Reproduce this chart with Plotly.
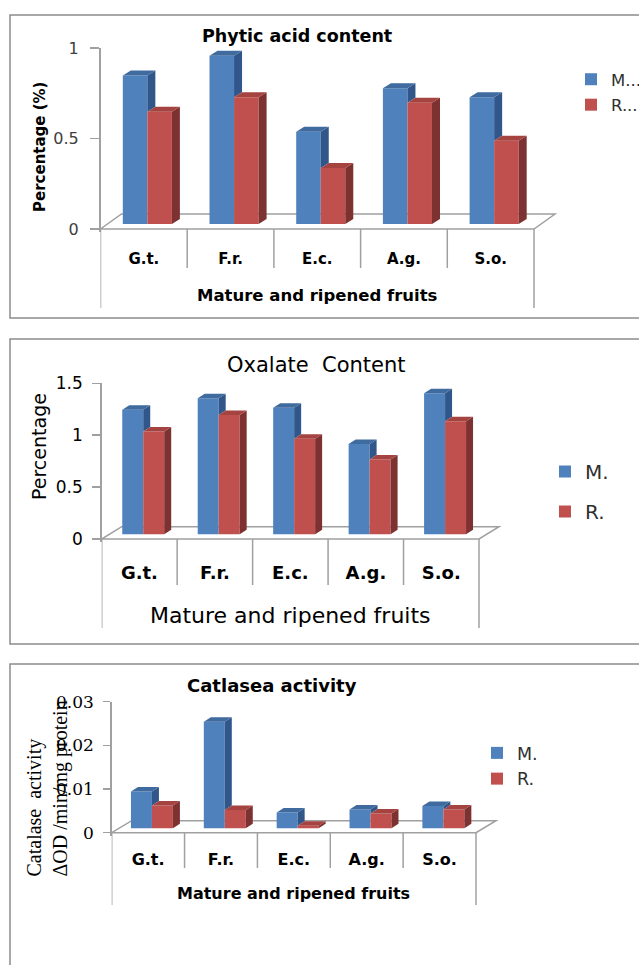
import plotly.graph_objects as go

# ---------------- data ----------------
categories = ["G.t.", "F.r.", "E.c.", "A.g.", "S.o."]
series_names_1 = ["M...", "R..."]
series_names_23 = ["M.", "R."]

phytic_mature = [0.82, 0.93, 0.51, 0.75, 0.70]
phytic_ripened = [0.62, 0.70, 0.31, 0.67, 0.46]

oxalate_mature = [1.20, 1.31, 1.22, 0.87, 1.36]
oxalate_ripened = [0.99, 1.15, 0.92, 0.72, 1.09]

catalase_mature = [0.0084, 0.0244, 0.0036, 0.0043, 0.0051]
catalase_ripened = [0.0052, 0.0042, 0.0006, 0.0034, 0.0043]

ticks_phytic = [0, 0.5, 1]
ticks_oxalate = [0, 0.5, 1, 1.5]
ticks_catalase = [0, 0.01, 0.02, 0.03]
ticktext_phytic = ["0", "0.5", "1"]
ticktext_oxalate = ["0", "0.5", "1", "1.5"]
ticktext_catalase = ["0", "0.01", "0.02", "0.03"]

# ---------------- styling ----------------
W, H = 639, 965
SANS = "DejaVu Sans"
SERIF = "DejaVu Serif"
BLUE, BLUE_TOP, BLUE_SIDE = "#4F81BD", "#3F6B9F", "#30568A"
RED, RED_TOP, RED_SIDE = "#C0504D", "#A54340", "#7D3130"
GRID = "#A0A0A0"
BORDER = "#8C8C8C"


def fx(x):
    return x / W


def fy(y):
    return 1 - y / H


panels = [
    dict(mature=phytic_mature, ripened=phytic_ripened, names=series_names_1,
         tickvals=ticks_phytic, ticktext=ticktext_phytic, ymax=1,
         ax=100.5, xr=534, y0=229, ytop=48, fdx=21, fdy=15, bw=0.283,
         sdx=3.5, sdy=5, ddx=8, ddy=5,
         tickfont=dict(family=SANS, size=16, color="#404040"), ticklen=9, tstand=8,
         catfont=dict(family=SANS, size=15, color="black"), cat_bold=True, cat_y=256.5,
         inner_end=268, outer_end=308,
         title="<b>Phytic acid content</b>", title_xy=(297, 36),
         title_font=dict(family=SANS, size=17.5, color="black"),
         xtitle="<b>Mature and ripened fruits</b>", xtitle_y=295,
         xtitle_font=dict(family=SANS, size=16.5, color="black"),
         ytitle="<b>Percentage (%)</b>", ytitle_xy=(40, 147),
         ytitle_font=dict(family=SANS, size=15, color="black"), ytitle_align="center",
         box=(10, 15, 700, 318),
         legend=dict(x=571, y=62, size=16.5, gap=1)),
    dict(mature=oxalate_mature, ripened=oxalate_ripened, names=series_names_23,
         tickvals=ticks_oxalate, ticktext=ticktext_oxalate, ymax=1.5,
         ax=101.7, xr=479, y0=539, ytop=383.3, fdx=20, fdy=12.3, bw=0.278,
         sdx=3.8, sdy=4.7, ddx=7, ddy=4.5,
         tickfont=dict(family=SANS, size=17, color="black"), ticklen=8, tstand=6,
         catfont=dict(family=SANS, size=18, color="black"), cat_bold=True, cat_y=570,
         inner_end=585, outer_end=628,
         title="Oxalate  Content", title_xy=(316, 365),
         title_font=dict(family=SANS, size=21, color="black"),
         xtitle="Mature and ripened fruits", xtitle_y=615,
         xtitle_font=dict(family=SANS, size=22, color="black"),
         ytitle="Percentage", ytitle_xy=(39, 447),
         ytitle_font=dict(family=SANS, size=19, color="black"), ytitle_align="center",
         box=(10, 339, 700, 644),
         legend=dict(x=545, y=452, size=20, gap=11)),
    dict(mature=catalase_mature, ripened=catalase_ripened, names=series_names_23,
         tickvals=ticks_catalase, ticktext=ticktext_catalase, ymax=0.03,
         ax=111.7, xr=476, y0=832.7, ytop=701.7, fdx=20, fdy=12, bw=0.288,
         sdx=3.8, sdy=4.4, ddx=7, ddy=4.5,
         tickfont=dict(family=SERIF, size=17, color="black"), ticklen=7, tstand=6,
         catfont=dict(family=SANS, size=16, color="black"), cat_bold=True, cat_y=857,
         inner_end=868, outer_end=905,
         title="<b>Catlasea activity</b>", title_xy=(272, 685),
         title_font=dict(family=SANS, size=18, color="black"),
         xtitle="<b>Mature and ripened fruits</b>", xtitle_y=893,
         xtitle_font=dict(family=SANS, size=16, color="black"),
         ytitle="Catalase  activity<br>ΔOD /min/mg protein", ytitle_xy=(47, 788.5),
         ytitle_font=dict(family="Liberation Serif", size=20, color="black"), ytitle_align="left",
         box=(10, 664, 700, 1000),
         legend=dict(x=477, y=735, size=17.5, gap=0)),
]

fig = go.Figure()
shapes = []
annotations = []
layout_axes = {}

for k, p in enumerate(panels, start=1):
    xa = "x" if k == 1 else f"x{k}"
    ya = "y" if k == 1 else f"y{k}"
    xkey = "xaxis" if k == 1 else f"xaxis{k}"
    ykey = "yaxis" if k == 1 else f"yaxis{k}"
    lkey = "legend" if k == 1 else f"legend{k}"

    cw = (p["xr"] - p["ax"]) / 5.0
    extra = p["fdx"] + 10
    scale = (p["y0"] - p["ytop"]) / p["ymax"]
    pad = 3

    cat_text = [f"<b>{c}</b>" if p["cat_bold"] else c for c in categories]
    layout_axes[xkey] = dict(
        domain=[fx(p["ax"]), fx(p["ax"] + 5 * cw + extra)],
        range=[-0.5, -0.5 + (5 * cw + extra) / cw],
        anchor=ya, showline=False, showgrid=False, zeroline=False,
        tickvals=list(range(len(categories))), ticktext=cat_text,
        ticks="", tickfont=p["catfont"], automargin=False,
        ticklabelstandoff=max(0, int(p["cat_y"] - p["catfont"]["size"] * 0.55 - (p["y0"] + pad))),
        fixedrange=True,
    )
    layout_axes[ykey] = dict(
        domain=[fy(p["y0"] + pad), fy(p["ytop"])],
        range=[-pad / scale, p["ymax"]],
        anchor=xa, showline=True, linecolor=GRID, linewidth=1.5,
        ticks="outside", ticklen=p["ticklen"], tickcolor=GRID, tickwidth=1.5,
        tickvals=p["tickvals"], ticktext=p["ticktext"], tickfont=p["tickfont"],
        ticklabelstandoff=p["tstand"], automargin=False,
        showgrid=False, zeroline=False, fixedrange=True,
    )

    base = p["sdy"] / scale
    shift = p["sdx"] / cw
    w = p["bw"]
    ddx = p["ddx"] / cw
    ddy = p["ddy"] / scale
    idx = list(range(len(categories)))

    # front faces as bars
    for s, (vals, col, nm, off) in enumerate([
        (p["mature"], BLUE, p["names"][0], shift - w),
        (p["ripened"], RED, p["names"][1], shift),
    ]):
        fig.add_trace(go.Bar(
            x=idx, y=vals, base=base, width=w, offset=off,
            marker=dict(color=col, line=dict(width=0)), name=nm,
            xaxis=xa, yaxis=ya, legend=lkey, legendgroup=f"{k}-{s}",
            hoverinfo="skip",
        ))

    # top and side faces
    def faces(vals, off, other=None):
        tx, ty, sx, sy = [], [], [], []
        for i, v in enumerate(vals):
            xl = i + off
            xr = xl + w
            t = base + v
            tx += [xl, xl + ddx, xr + ddx, xr, xl, None]
            ty += [t, t + ddy, t + ddy, t, t, None]
            b = base
            if other is not None:
                b = base + other[i]
                if b >= t:
                    continue
            sx += [xr, xr, xr + ddx, xr + ddx, xr, None]
            sy += [b, t, t + ddy, b + ddy, b, None]
        return tx, ty, sx, sy

    for vals, off, other, ctop, cside in [
        (p["mature"], shift - w, p["ripened"], BLUE_TOP, BLUE_SIDE),
        (p["ripened"], shift, None, RED_TOP, RED_SIDE),
    ]:
        tx, ty, sx, sy = faces(vals, off, other)
        fig.add_trace(go.Scatter(x=sx, y=sy, mode="lines", fill="toself",
                                 fillcolor=cside, line=dict(width=0, color=cside),
                                 xaxis=xa, yaxis=ya, showlegend=False, hoverinfo="skip"))
        fig.add_trace(go.Scatter(x=tx, y=ty, mode="lines", fill="toself",
                                 fillcolor=ctop, line=dict(width=0, color=ctop),
                                 xaxis=xa, yaxis=ya, showlegend=False, hoverinfo="skip"))

    # floor
    fdx = p["fdx"] / cw
    fdy = p["fdy"] / scale
    path = (f"M {-0.5},0 L {4.5},0 L {4.5 + fdx},{fdy} "
            f"L {-0.5 + fdx},{fdy} Z")
    shapes.append(dict(type="path", path=path, xref=xa, yref=ya, layer="below",
                       line=dict(color=GRID, width=1.5)))

    # category dividers
    for j in range(len(categories) + 1):
        end = p["outer_end"] if j in (0, len(categories)) else p["inner_end"]
        shapes.append(dict(type="line", xref=xa, yref="paper",
                           x0=j - 0.5, x1=j - 0.5, y0=fy(p["y0"]), y1=fy(end),
                           line=dict(color=GRID, width=1.5)))

    # panel border
    bx0, by0, bx1, by1 = p["box"]
    shapes.append(dict(type="rect", xref="paper", yref="paper",
                       x0=fx(bx0), x1=fx(bx1), y0=fy(by1), y1=fy(by0),
                       line=dict(color=BORDER, width=1.5)))

    # titles
    annotations.append(dict(text=p["title"], x=fx(p["title_xy"][0]), y=fy(p["title_xy"][1]),
                            xref="paper", yref="paper", showarrow=False,
                            xanchor="center", yanchor="middle", font=p["title_font"]))
    annotations.append(dict(text=p["xtitle"], x=fx((p["ax"] + p["xr"]) / 2), y=fy(p["xtitle_y"]),
                            xref="paper", yref="paper", showarrow=False,
                            xanchor="center", yanchor="middle", font=p["xtitle_font"]))
    annotations.append(dict(text=p["ytitle"], x=fx(p["ytitle_xy"][0]), y=fy(p["ytitle_xy"][1]),
                            xref="paper", yref="paper", showarrow=False, textangle=-90,
                            align=p["ytitle_align"],
                            xanchor="center", yanchor="middle", font=p["ytitle_font"]))

    lg = p["legend"]
    layout_axes[lkey] = dict(x=fx(lg["x"]), y=fy(lg["y"]), xanchor="left", yanchor="top",
                             bgcolor="rgba(0,0,0,0)", borderwidth=0,
                             font=dict(family=SANS, size=lg["size"], color="#303030"),
                             tracegroupgap=lg["gap"], itemclick=False, itemdoubleclick=False)

fig.update_layout(
    width=W, height=H,
    margin=dict(l=0, r=0, t=0, b=0, pad=0, autoexpand=False),
    paper_bgcolor="white", plot_bgcolor="rgba(0,0,0,0)",
    barmode="overlay", shapes=shapes, annotations=annotations,
    **layout_axes,
)

fig.write_html(
    "out.html",
    config={"displayModeBar": False, "staticPlot": True},
    post_script=(
        "document.documentElement.style.margin='0';"
        "document.body.style.margin='0';document.body.style.overflow='hidden';"
        "var d=document.querySelector('.plotly-graph-div');"
        "d.style.position='fixed';d.style.top='0px';d.style.left='0px';"
    ),
)
